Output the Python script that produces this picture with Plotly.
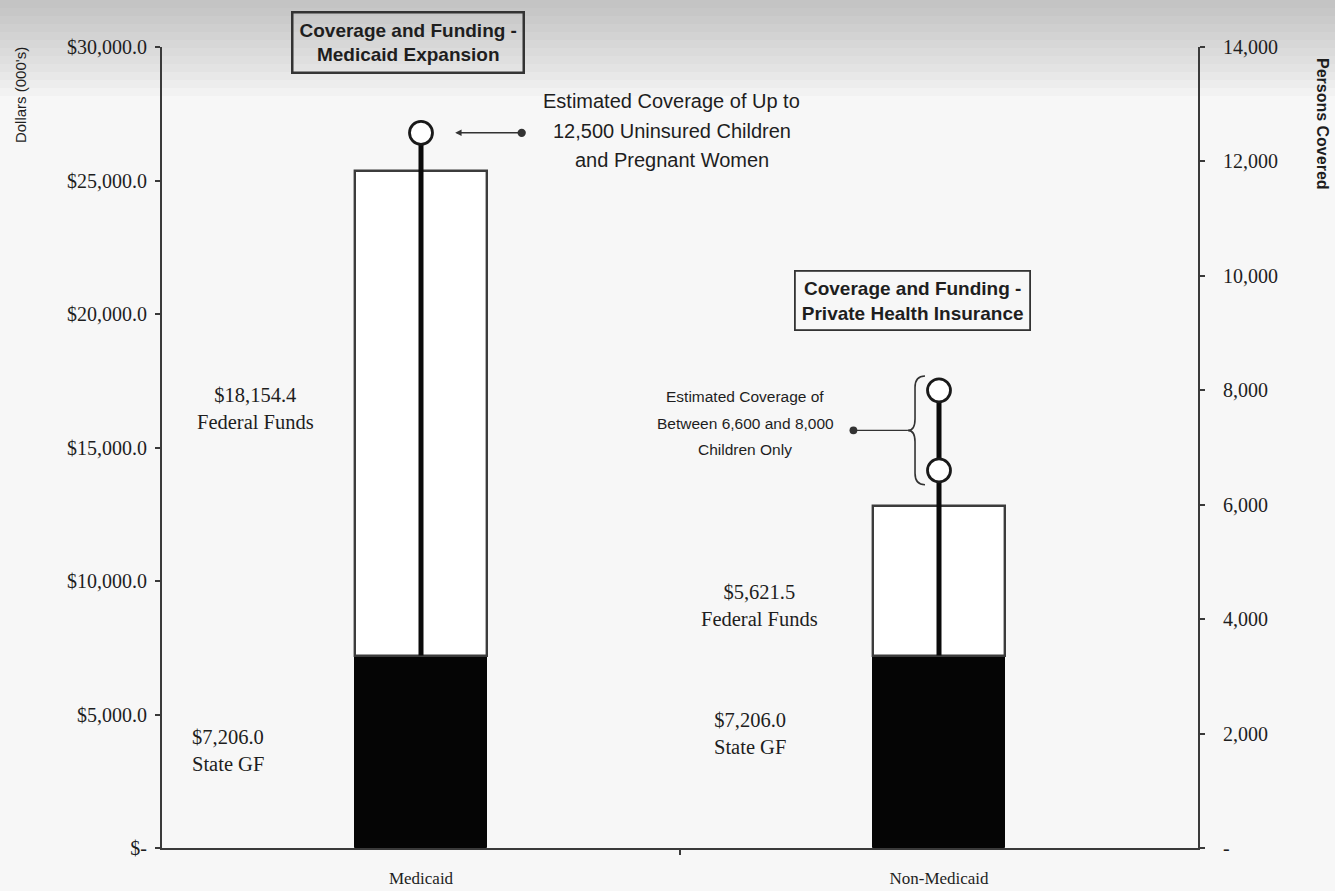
import plotly.graph_objects as go

# ---- data ----
categories = ["Medicaid", "Non-Medicaid"]
state_gf = [7206.0, 7206.0]
federal_funds = [18154.4, 5621.5]
coverage_low = [None, 6600]
coverage_high = [12500, 8000]

dollar_max = 30000
persons_max = 14000
dollar_ticks = [0, 5000, 10000, 15000, 20000, 25000, 30000]
dollar_tick_labels = ["$-", "$5,000.0", "$10,000.0", "$15,000.0", "$20,000.0", "$25,000.0", "$30,000.0"]
person_ticks = [0, 2000, 4000, 6000, 8000, 10000, 12000, 14000]
person_tick_labels = ["-", "2,000", "4,000", "6,000", "8,000", "10,000", "12,000", "14,000"]

note1_lines = ["Estimated Coverage of Up to", "12,500 Uninsured Children", "and Pregnant Women"]
note2_lines = ["Estimated Coverage of", "Between 6,600 and 8,000", "Children Only"]

xpos = list(range(len(categories)))
scale = persons_max / dollar_max  # dollars -> persons axis

SERIF = "Liberation Serif, Times New Roman, serif"
SANS = "Liberation Sans, Arial, sans-serif"
INK = "#1e1e1e"
AX = "#3a3a3a"

fig = go.Figure()

fig.add_trace(go.Bar(
    x=xpos, y=state_gf, width=0.255, name="State GF",
    marker=dict(color="#050505", line=dict(color="#050505", width=1)),
    yaxis="y", showlegend=False,
))
fig.add_trace(go.Bar(
    x=xpos, y=federal_funds, base=state_gf, width=0.255, name="Federal Funds",
    marker=dict(color="rgba(255,255,255,0.9)", line=dict(color="#3c3c3c", width=2.4)),
    yaxis="y", showlegend=False,
))

# coverage lines (from top of State GF segment up to highest coverage)
for i in xpos:
    fig.add_trace(go.Scatter(
        x=[i, i], y=[state_gf[i] * scale, coverage_high[i]],
        mode="lines", line=dict(color="#0a0a0a", width=5),
        yaxis="y2", showlegend=False, hoverinfo="skip",
    ))
# coverage markers
mx, my = [], []
for i in xpos:
    for v in (coverage_low[i], coverage_high[i]):
        if v is not None:
            mx.append(i)
            my.append(v)
fig.add_trace(go.Scatter(
    x=mx, y=my, mode="markers",
    marker=dict(symbol="circle", size=23, color="white", line=dict(color="#1a1a1a", width=2.8)),
    yaxis="y2", showlegend=False,
))

# ---- background scan tint near top ----
shapes = []
for h in range(8, 100, 8):
    shapes.append(dict(
        type="rect", xref="paper", yref="paper",
        x0=-0.16, x1=1.14, y0=1 + (47 - h) / 801, y1=1.06,
        fillcolor="rgba(110,110,110,0.035)", line=dict(width=0), layer="below",
    ))

# brace for Non-Medicaid coverage range
lo, hi = coverage_low[1], coverage_high[1]
mid = (lo + hi) / 2
top, bot = hi + 250, lo - 250
bx, tx, px_ = 0.9537, 0.973, 0.940
brace = (f"M {tx},{top} Q {bx},{top} {bx},{top-200} L {bx},{mid+200} "
         f"Q {bx},{mid} {px_},{mid} Q {bx},{mid} {bx},{mid-200} "
         f"L {bx},{bot+200} Q {bx},{bot} {tx},{bot}")
shapes.append(dict(type="path", path=brace, xref="x", yref="y2",
                   line=dict(color="#333", width=1.6)))


def note(text, x, y, size, family=SERIF, **kw):
    d = dict(text=text, xref="paper", yref="paper", x=x, y=y, xanchor="center",
             yanchor="middle", showarrow=False, font=dict(family=family, size=size, color=INK))
    d.update(kw)
    return d


def py(p):  # pixel row -> paper y
    return (848 - p) / 801


annotations = [
    note("<b>Coverage and Funding -<br>Medicaid Expansion</b>", 0.2375, py(43), 19, SANS,
         bordercolor="#333", borderwidth=2.5, borderpad=6),
    note("<b>Coverage and Funding -<br>Private Health Insurance</b>", 0.724, py(300), 19, SANS,
         bordercolor="#333", borderwidth=1.8, borderpad=6),
    note(f"${federal_funds[0]:,.1f}<br>Federal Funds", 0.0898, py(408), 20.5),
    note(f"${state_gf[0]:,.1f}<br>State GF", 0.027, py(750), 20.5, xanchor="left", align="left"),
    note(f"${federal_funds[1]:,.1f}<br>Federal Funds", 0.577, py(606), 20.5),
    note(f"${state_gf[1]:,.1f}<br>State GF", 0.568, py(733), 20.5),
    note("Dollars (000's)", -0.137, py(95), 15, SANS, textangle=-90),
    note("<b>Persons Covered</b>", 1.1207, py(124), 16, SANS, textangle=90),
    # arrows
    dict(text="", xref="x", yref="y2", x=0.066, y=coverage_high[0], ax=68, ay=0,
         showarrow=True, arrowhead=2, arrowsize=0.8, arrowwidth=1.6, arrowcolor="#333",
         arrowside="end+start", startarrowhead=6, startarrowsize=1.3),
    dict(text="", xref="x", yref="y2", x=px_, y=mid, ax=-56, ay=0,
         showarrow=True, arrowhead=0, arrowwidth=1.4, arrowcolor="#333",
         arrowside="end+start", startarrowhead=6, startarrowsize=1.4),
]
for k, line in enumerate(note1_lines):
    annotations.append(note(line, 0.492, py(101 + 29.5 * k), 20, SANS))
for k, line in enumerate(note2_lines):
    annotations.append(note(line, 0.563, py(397 + 26 * k), 15.5, SANS))

axis_font = dict(family=SERIF, size=20, color=INK)
fig.update_layout(
    width=1335, height=891,
    margin=dict(l=162, r=137, t=47, b=43, autoexpand=False),
    paper_bgcolor="#f7f7f7", plot_bgcolor="rgba(0,0,0,0)",
    barmode="overlay", bargap=0,
    shapes=shapes, annotations=annotations,
    xaxis=dict(range=[-0.5, 1.5], tickvals=xpos, ticktext=categories, automargin=False,
               showline=True, linecolor=AX, linewidth=2.2, showgrid=False, zeroline=False,
               ticks="", tickfont=dict(family=SERIF, size=17, color=INK), ticklabelstandoff=13,
               minor=dict(tickvals=[0.5], ticks="outside", ticklen=5, tickcolor=AX, tickwidth=2)),
    yaxis=dict(range=[0, dollar_max], tickvals=dollar_ticks, ticktext=dollar_tick_labels,
               automargin=False,
               showline=True, linecolor=AX, linewidth=2.2, showgrid=False, zeroline=False,
               ticks="outside", ticklen=5, tickcolor=AX, tickwidth=2, tickfont=axis_font,
               ticklabelstandoff=4),
    yaxis2=dict(range=[0, persons_max], tickvals=person_ticks, ticktext=person_tick_labels,
                overlaying="y", side="right", automargin=False,
                showline=True, linecolor=AX, linewidth=2.2, showgrid=False, zeroline=False,
                ticks="outside", ticklen=5, tickcolor=AX, tickwidth=2, tickfont=axis_font,
                ticklabelstandoff=14),
)

fig.write_html("out.html", config={"displayModeBar": False},
               post_script="document.body.style.margin='0px';document.body.style.background='#f7f7f7';")
